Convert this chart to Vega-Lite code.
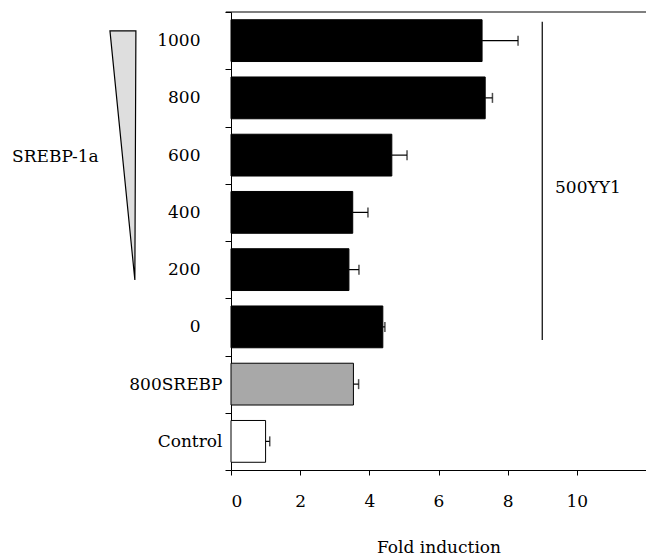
{
  "$schema": "https://vega.github.io/schema/vega-lite/v6.json",
  "width": 415,
  "height": 458,
  "autosize": {"type": "none"},
  "padding": {"left": 231, "top": 12, "right": 0, "bottom": 90},
  "config": {
    "view": {"stroke": null},
    "font": "DejaVu Serif",
    "axis": {
      "labelFont": "DejaVu Serif",
      "titleFont": "DejaVu Serif",
      "labelColor": "black",
      "titleColor": "black",
      "domainColor": "black",
      "tickColor": "black",
      "labelFontSize": 17,
      "titleFontSize": 17,
      "titleFontWeight": "normal",
      "grid": false
    }
  },
  "layer": [
    {
      "data": {
        "values": [
          {"label": "1000", "value": 7.26, "hi": 8.3, "group": "yy1"},
          {"label": "800", "value": 7.35, "hi": 7.56, "group": "yy1"},
          {"label": "600", "value": 4.65, "hi": 5.09, "group": "yy1"},
          {"label": "400", "value": 3.52, "hi": 3.96, "group": "yy1"},
          {"label": "200", "value": 3.41, "hi": 3.7, "group": "yy1"},
          {"label": "0", "value": 4.39, "hi": 4.45, "group": "yy1"},
          {"label": "800SREBP", "value": 3.54, "hi": 3.69, "group": "srebp"},
          {"label": "Control", "value": 1.0, "hi": 1.12, "group": "control"}
        ]
      },
      "layer": [
        {
          "mark": {"type": "bar", "height": {"band": 0.73}, "stroke": "black", "strokeWidth": 1},
          "encoding": {
            "y": {
              "field": "label", "type": "nominal", "sort": null,
              "scale": {"paddingInner": 0, "paddingOuter": 0},
              "axis": {
                "title": null,
                "tickBand": "extent",
                "tickSize": 6,
                "labelPadding": {"condition": {"test": "datum.value == '800SREBP' || datum.value == 'Control'", "value": 3}, "value": 25}
              }
            },
            "x": {
              "field": "value", "type": "quantitative",
              "scale": {"domain": [0, 12], "nice": false},
              "axis": {
                "title": "Fold induction",
                "values": [0, 2, 4, 6, 8, 10],
                "tickSize": 5,
                "labelPadding": 18,
                "titlePadding": 30
              }
            },
            "fill": {
              "field": "group", "type": "nominal",
              "scale": {"domain": ["yy1", "srebp", "control"], "range": ["#000000", "#a8a8a8", "#ffffff"]},
              "legend": null
            }
          }
        },
        {
          "mark": {"type": "rule", "color": "black", "strokeWidth": 1.2},
          "encoding": {
            "y": {"field": "label", "type": "nominal", "sort": null},
            "x": {"field": "value", "type": "quantitative"},
            "x2": {"field": "hi"}
          }
        },
        {
          "mark": {"type": "tick", "color": "black", "thickness": 1.5, "size": 10, "orient": "vertical"},
          "encoding": {
            "y": {"field": "label", "type": "nominal", "sort": null},
            "x": {"field": "hi", "type": "quantitative"}
          }
        }
      ]
    },
    {
      "layer": [
        {
          "data": {"values": [
            {"yy": 7.67, "xa": -3.5, "xb": -2.75},
            {"yy": 3.32, "xa": -2.78, "xb": -2.78}
          ]},
          "mark": {"type": "area", "orient": "horizontal", "fill": "#dedede", "stroke": "black", "strokeWidth": 1.2},
          "encoding": {
            "y": {"field": "yy", "type": "quantitative", "scale": {"domain": [0, 8], "nice": false}, "axis": null},
            "x": {"field": "xa", "type": "quantitative", "scale": {"domain": [0, 12], "nice": false}},
            "x2": {"field": "xb"}
          }
        },
        {
          "data": {"values": [
            {"text": "SREBP-1a", "tx": -6.33, "ty": 5.47},
            {"text": "500YY1", "tx": 9.37, "ty": 4.93}
          ]},
          "mark": {"type": "text", "align": "left", "baseline": "middle", "fontSize": 17, "font": "DejaVu Serif", "color": "black"},
          "encoding": {
            "y": {"field": "ty", "type": "quantitative", "scale": {"domain": [0, 8], "nice": false}, "axis": null},
            "x": {"field": "tx", "type": "quantitative", "scale": {"domain": [0, 12], "nice": false}},
            "text": {"field": "text"}
          }
        },
        {
          "data": {"values": [{"rx": 9, "ry": 7.83, "ry2": 2.27}]},
          "mark": {"type": "rule", "color": "black", "strokeWidth": 1.2},
          "encoding": {
            "y": {"field": "ry", "type": "quantitative", "scale": {"domain": [0, 8], "nice": false}, "axis": null},
            "y2": {"field": "ry2"},
            "x": {"field": "rx", "type": "quantitative", "scale": {"domain": [0, 12], "nice": false}}
          }
        },
        {
          "data": {"values": [{"bx": -0.15, "bx2": 12, "by": 8}]},
          "mark": {"type": "rule", "color": "black", "strokeWidth": 1.2},
          "encoding": {
            "y": {"field": "by", "type": "quantitative", "scale": {"domain": [0, 8], "nice": false}, "axis": null},
            "x": {"field": "bx", "type": "quantitative", "scale": {"domain": [0, 12], "nice": false}},
            "x2": {"field": "bx2"}
          }
        }
      ]
    }
  ],
  "resolve": {"scale": {"y": "independent"}}
}
